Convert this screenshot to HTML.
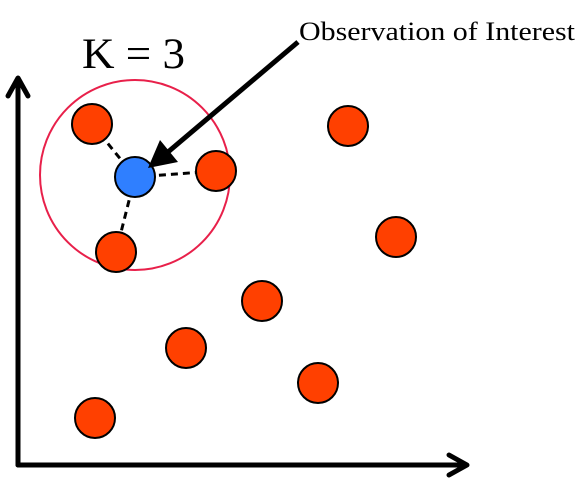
<!DOCTYPE html>
<html><head><meta charset="utf-8"><style>
html,body{margin:0;padding:0;background:#fff;}
svg{display:block;}
</style></head><body>
<svg id="chart" width="586" height="487" viewBox="0 0 586 487" xmlns="http://www.w3.org/2000/svg">
<g id="axes" stroke="#000" stroke-width="5" fill="none" stroke-linecap="round" stroke-linejoin="round">
  <line x1="18" y1="465" x2="18" y2="80"/>
  <polyline points="8,96 18,78 28,96"/>
  <line x1="18" y1="465" x2="465" y2="465"/>
  <polyline points="449,455 467,465 449,475"/>
</g>
<circle cx="135" cy="175" r="95" fill="none" stroke="#e8204a" stroke-width="2"/>
<g id="links" stroke="#000" stroke-width="3" stroke-dasharray="7,5"></g>
<g id="points"></g>
<text x="82" y="68" font-family="Liberation Serif, serif" font-size="43" textLength="103" lengthAdjust="spacingAndGlyphs">K = 3</text>
<text x="299" y="40" font-family="Liberation Serif, serif" font-size="26" textLength="276" lengthAdjust="spacingAndGlyphs">Observation of Interest</text>
<g>
  <line x1="298" y1="42" x2="168" y2="152" stroke="#000" stroke-width="5"/>
  <polygon points="148,168 160,140 178,162" fill="#000"/>
</g>
<script>
const pointsX=[92,216,116,348,396,262,186,318,95];
const pointsY=[124,171,252,126,237,301,348,383,418];
const queryX=135, queryY=177;
const neighborIdx=[0,1,2];
const ns="http://www.w3.org/2000/svg";
const links=document.getElementById('links');
neighborIdx.forEach(i=>{
  const l=document.createElementNS(ns,'line');
  l.setAttribute('x1',queryX);l.setAttribute('y1',queryY);
  l.setAttribute('x2',pointsX[i]);l.setAttribute('y2',pointsY[i]);
  
  
  links.appendChild(l);
});
const g=document.getElementById('points');
pointsX.forEach((x,i)=>{
  const c=document.createElementNS(ns,'circle');
  c.setAttribute('cx',x);c.setAttribute('cy',pointsY[i]);c.setAttribute('r',20);
  c.setAttribute('fill','#ff4000');c.setAttribute('stroke','#000');c.setAttribute('stroke-width','2');
  
  
  g.appendChild(c);
});
const q=document.createElementNS(ns,'circle');
q.setAttribute('cx',queryX);q.setAttribute('cy',queryY);q.setAttribute('r',20);
q.setAttribute('fill','#2f7fff');q.setAttribute('stroke','#000');q.setAttribute('stroke-width','2');


g.appendChild(q);
</script>
</svg>
</body></html>
